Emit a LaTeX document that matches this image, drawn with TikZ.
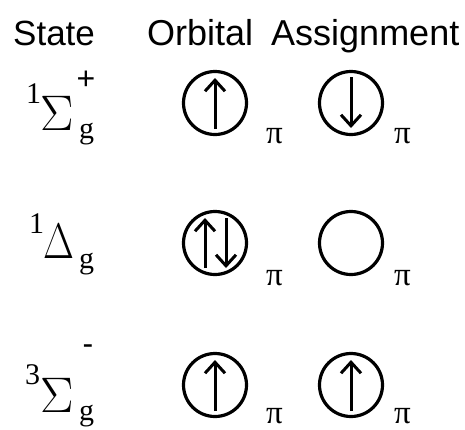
\RequirePackage{fix-cm}
\documentclass[tikz,border=0pt]{standalone}
\usepackage{fontspec}
\setmainfont{Liberation Serif}
\newfontfamily\hdrfont{Liberation Sans}
\usetikzlibrary{arrows.meta}
\begin{document}
\begin{tikzpicture}[x=1pt,y=-1pt,
  hdr/.style={anchor=base west, inner sep=0pt, font=\hdrfont\fontsize{35}{35}\selectfont},
  big/.style={anchor=base west, inner sep=0pt, font=\fontsize{50}{50}\selectfont},
  sm/.style={anchor=base west, inner sep=0pt, font=\fontsize{30}{30}\selectfont},
  smsans/.style={anchor=center, inner sep=0pt, font=\hdrfont\fontsize{32}{32}\selectfont},
  orb/.style={draw, line width=3.2pt, circle, minimum size=63pt, inner sep=0pt},
  pilab/.style={anchor=base west, inner sep=0pt, font=\fontsize{33}{33}\selectfont},
  spin/.style={line width=3pt, -{Straight Barb[length=11pt, width=20pt, line width=3pt]}}
]
\useasboundingbox (0,0) rectangle (465,429);
\node[hdr] (hstate) at (13,45) {State};
\node[hdr, font=\hdrfont\fontsize{36}{36}\selectfont] (horb) at (147,45) {Orbital\hspace{18pt}Assignment};

% row 1
\node[sm] (r1pre) at (26,103) {1};
\node[big] (r1main) at (40,130) {$\Sigma$};
\node[sm] (r1sub) at (79,138) {g};
\node[smsans] (r1sup) at (86,80) {+};
\node[orb] (o11) at (215,103) {};
\node[orb] (o12) at (351,103) {};
\node[pilab] (p11) at (266,143) {π};
\node[pilab] (p12) at (394,143) {π};
\coordinate (o11b) at (215,129);
\coordinate (o11t) at (215,78);
\draw[spin] (o11b) -- (o11t);
\coordinate (o12t) at (351,77);
\coordinate (o12b) at (351,128);
\draw[spin] (o12t) -- (o12b);

% row 2
\node[sm] (r2pre) at (29,233) {1};
\node[big, xscale=0.8] (r2main) at (43,258) {$\Delta$};
\node[sm] (r2sub) at (79,268) {g};
\node[orb] (o21) at (215,243) {};
\node[orb] (o22) at (351,243) {};
\node[pilab] (p21) at (266,285) {π};
\node[pilab] (p22) at (394,285) {π};
\coordinate (o21b) at (205,268);
\coordinate (o21t) at (205,218);
\draw[spin] (o21b) -- (o21t);
\coordinate (o21t2) at (226,218);
\coordinate (o21b2) at (226,268);
\draw[spin] (o21t2) -- (o21b2);

% row 3
\node[sm] (r3pre) at (25,384) {3};
\node[big] (r3main) at (40,412) {$\Sigma$};
\node[sm] (r3sub) at (79,420) {g};
\node[smsans] (r3sup) at (88,350) {-};
\node[orb] (o31) at (215,385) {};
\node[orb] (o32) at (351,385) {};
\node[pilab] (p31) at (266,423) {π};
\node[pilab] (p32) at (394,423) {π};
\coordinate (o31b) at (215,411);
\coordinate (o31t) at (215,360);
\draw[spin] (o31b) -- (o31t);
\coordinate (o32b) at (351,411);
\coordinate (o32t) at (351,360);
\draw[spin] (o32b) -- (o32t);
\end{tikzpicture}
\end{document}
